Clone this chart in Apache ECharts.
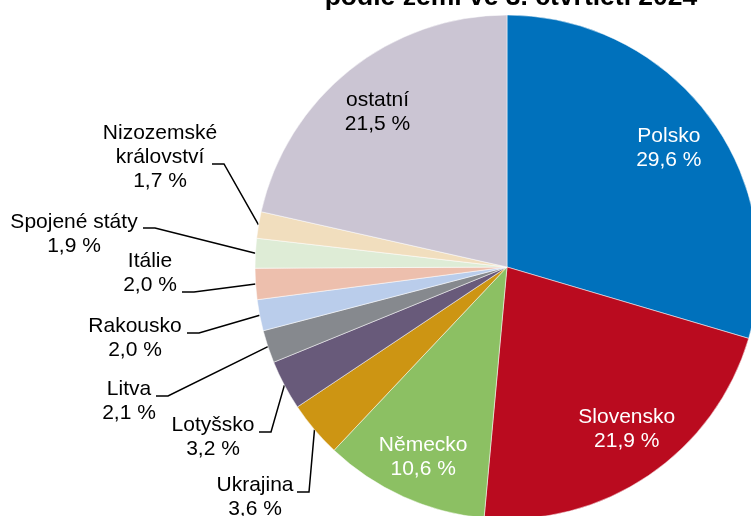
<!DOCTYPE html>
<html><head><meta charset="utf-8">
<script src="https://cdn.jsdelivr.net/npm/echarts@6/dist/echarts.min.js"></script>
<style>html,body{margin:0;padding:0;background:#fff}#c{width:751px;height:516px}</style>
</head><body><div id="c"></div>
<script>
// ---- data ----
const categories = ['Polsko','Slovensko','Německo','Ukrajina','Lotyšsko','Litva','Rakousko','Itálie','Spojené státy','Nizozemské království','ostatní'];
const labelNames = ['Polsko','Slovensko','Německo','Ukrajina','Lotyšsko','Litva','Rakousko','Itálie','Spojené státy','Nizozemské\nkrálovství','ostatní'];
const shares = [29.6, 21.9, 10.6, 3.6, 3.2, 2.1, 2.0, 2.0, 1.9, 1.7, 21.5];
const titleText = 'podle zemí ve 3. čtvrtletí 2024';

// ---- styles / layout ----
const colors = ['#0071BC','#BA0B1F','#8CC063','#CD9513','#685A7A','#86898E','#BACDEB','#EDBFAD','#DEECD6','#F1DEBE','#CBC5D3'];
const insideTextColor = {0:'#fff', 1:'#fff', 2:'#fff', 10:'#000'};
// inside labels: [radius of label centre, angular tweak in degrees]
const insideLayout = {0: [201, 0.4], 1: [202, -2.2], 2: [208, -0.5], 10: [202, -1.2]};
const CX = 507, CY = 267, R = 252;
const BASELINE_OFFSET = 19.3;  // first-line baseline below label top
// outside labels: [text centre x, first baseline y, leader y, leader start x]
const outerLayout = {
  3: [255, 493, 492, 297],
  4: [213, 433, 432, 259],
  5: [129, 397, 396, 156],
  6: [135, 334, 333, 187],
  7: [150, 269, 292, 182],
  8: [74, 230, 228, 143],
  9: [160, 141, 164, 212]
};

const fmt = v => v.toFixed(1).replace('.', ',') + ' %';
const total = shares.reduce((a, b) => a + b, 0);
const midFrac = shares.map((v, i) => (shares.slice(0, i).reduce((a, b) => a + b, 0) + v / 2) / total);

const chart = echarts.init(document.getElementById('c'), null, {renderer: 'canvas'});
chart.setOption({
  animation: false,
  backgroundColor: '#fff',
  graphic: [{
    type: 'text', x: 511, y: -2.7,
    style: {text: titleText, fill: '#000', font: 'bold 26.5px "Liberation Sans", Arial, sans-serif', textAlign: 'center', textVerticalAlign: 'middle'}
  }],
  series: [{
    type: 'pie',
    center: [CX, CY],
    radius: R,
    startAngle: 90,
    clockwise: true,
    avoidLabelOverlap: false,
    silent: true,
    itemStyle: {borderColor: '#fff', borderWidth: 0.5},
    label: {
      fontFamily: '"Liberation Sans", Arial, sans-serif',
      fontSize: 21, lineHeight: 24, color: '#000',
      formatter: p => labelNames[p.dataIndex] + '\n' + fmt(p.value)
    },
    labelLine: {length: 10, length2: 10, lineStyle: {color: '#000', width: 1.5}},
    data: categories.map((c, i) => {
      const inside = insideLayout[i] != null;
      return {
        name: c, value: shares[i],
        itemStyle: {color: colors[i]},
        label: inside ? {position: 'inside', color: insideTextColor[i]} : {position: 'outside'},
        labelLine: {show: !inside}
      };
    }),
    labelLayout: function (p) {
      const i = p.dataIndex;
      const IL = insideLayout[i];
      if (IL) {
        const th = midFrac[i] * 2 * Math.PI + IL[1] * Math.PI / 180;
        return {x: CX + IL[0] * Math.sin(th), y: CY - IL[0] * Math.cos(th), align: 'center', verticalAlign: 'middle'};
      }
      const L = outerLayout[i];
      const pts = p.labelLinePoints;
      return {
        x: L[0], y: L[1] - BASELINE_OFFSET, align: 'center', verticalAlign: 'top',
        labelLinePoints: [pts[0], [L[3] + 12, L[2]], [L[3], L[2]]]
      };
    }
  }]
});
</script></body></html>
